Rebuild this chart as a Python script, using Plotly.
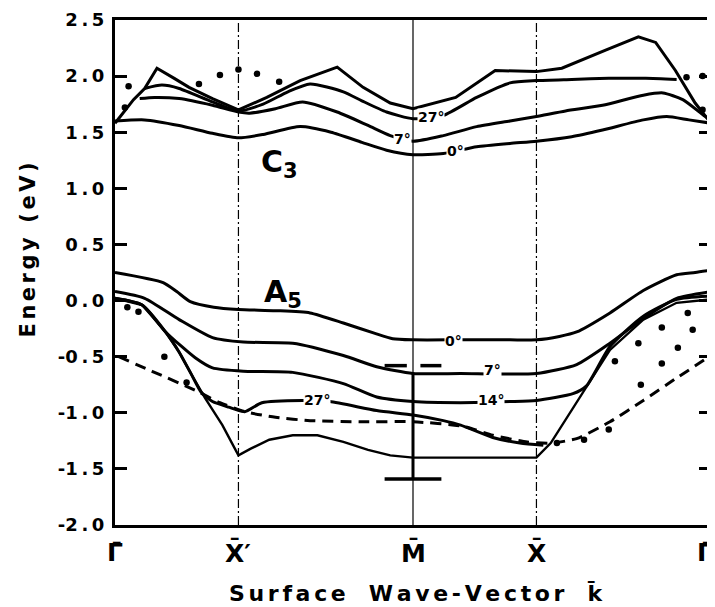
import plotly.graph_objects as go

S2 = 2 ** 0.5
# symmetry points along the path (units of Gamma-X' distance)
sym_k = [0.0, 1.0, 1 + S2, 2 + S2, 2 + 2 * S2]
sym_labels = ["Γ\u0304", "X\u0304\u2032", "M\u0304", "X\u0304", "Γ\u0304"]

# ---------------- upper band (C3) ----------------
up0_k = [0, 0.24, 0.52, 0.79, 1.0, 1.2, 1.5, 1.75, 2.0, 2.2, 2.414, 2.66, 2.93, 3.2, 3.414, 3.7, 3.95, 4.28, 4.47, 4.65, 4.828]
up0_E = [1.60, 1.61, 1.56, 1.49, 1.45, 1.48, 1.55, 1.50, 1.41, 1.34, 1.30, 1.31, 1.37, 1.40, 1.42, 1.46, 1.52, 1.61, 1.64, 1.61, 1.58]

up7_k = [0.20, 0.32, 0.52, 0.79, 1.0, 1.09, 1.3, 1.52, 1.8, 2.05, 2.23, 2.414, 2.66, 2.93, 3.2, 3.414, 3.65, 3.95, 4.28, 4.44, 4.6, 4.77, 4.828]
up7_E = [1.80, 1.81, 1.80, 1.74, 1.68, 1.67, 1.71, 1.77, 1.68, 1.56, 1.47, 1.42, 1.47, 1.55, 1.60, 1.64, 1.69, 1.74, 1.83, 1.85, 1.79, 1.65, 1.61]

up27_k = [0.24, 0.38, 0.52, 0.79, 1.0, 1.2, 1.4, 1.58, 1.85, 2.0, 2.2, 2.414, 2.66, 2.93, 3.2, 3.414, 3.7, 4.0, 4.3, 4.55]
up27_E = [1.89, 1.92, 1.89, 1.77, 1.69, 1.75, 1.86, 1.93, 1.86, 1.78, 1.68, 1.62, 1.65, 1.81, 1.94, 1.96, 1.97, 1.98, 1.98, 1.97]

uptop_k = [0, 0.15, 0.24, 0.34, 0.48, 0.6, 0.79, 1.0, 1.23, 1.5, 1.8, 2.01, 2.23, 2.414, 2.76, 3.08, 3.414, 3.62, 3.97, 4.24, 4.38, 4.54, 4.70, 4.828]
uptop_E = [1.58, 1.79, 1.89, 2.07, 1.98, 1.90, 1.80, 1.70, 1.81, 1.96, 2.08, 1.90, 1.76, 1.71, 1.81, 2.05, 2.04, 2.07, 2.23, 2.35, 2.30, 2.05, 1.76, 1.58]

updots_k = [0.08, 0.11, 0.68, 0.85, 1.0, 1.15, 1.33, 4.63, 4.76, 4.76]
updots_E = [1.72, 1.91, 1.93, 2.01, 2.06, 2.02, 1.95, 1.99, 2.00, 1.70]

# ---------------- lower band (A5) ----------------
lo0_k = [0, 0.39, 0.5, 0.61, 0.8, 1.0, 1.3, 1.58, 1.85, 2.1, 2.25, 2.414, 2.8, 3.2, 3.414, 3.6, 3.74, 4.01, 4.28, 4.55, 4.7, 4.828]
lo0_E = [0.25, 0.16, 0.08, -0.01, -0.06, -0.08, -0.09, -0.11, -0.20, -0.29, -0.34, -0.35, -0.35, -0.35, -0.35, -0.32, -0.28, -0.11, 0.09, 0.23, 0.25, 0.27]

lo7_k = [0, 0.24, 0.52, 0.79, 1.04, 1.44, 1.85, 2.12, 2.414, 2.8, 3.414, 3.74, 4.01, 4.28, 4.55, 4.828]
lo7_E = [0.08, 0.02, -0.17, -0.33, -0.37, -0.38, -0.49, -0.59, -0.65, -0.65, -0.65, -0.57, -0.38, -0.16, 0.02, 0.08]

lo14_k = [0, 0.22, 0.41, 0.65, 0.79, 1.04, 1.44, 1.85, 2.12, 2.414, 2.8, 3.2, 3.414, 3.71, 3.82, 4.01, 4.28, 4.55, 4.828]
lo14_E = [0.02, -0.04, -0.28, -0.51, -0.60, -0.63, -0.64, -0.74, -0.86, -0.90, -0.91, -0.90, -0.89, -0.83, -0.76, -0.41, -0.14, 0.01, 0.04]

lo27_k = [0, 0.22, 0.41, 0.52, 0.62, 0.70, 0.79, 0.92, 1.05, 1.19, 1.52, 1.74, 2.12, 2.414, 2.66, 2.80, 3.06, 3.28, 3.47]
lo27_E = [0.02, -0.04, -0.28, -0.46, -0.66, -0.82, -0.90, -0.95, -0.99, -0.91, -0.89, -0.90, -0.98, -1.02, -1.07, -1.11, -1.22, -1.27, -1.29]

lotop_k = [0, 0.22, 0.41, 0.52, 0.62, 0.73, 0.87, 1.0, 1.1, 1.25, 1.44, 1.64, 1.85, 2.05, 2.23, 2.414, 3.0, 3.414, 3.53, 3.82, 4.01, 4.28, 4.55, 4.828]
lotop_E = [0.02, -0.04, -0.28, -0.46, -0.66, -0.87, -1.11, -1.38, -1.32, -1.24, -1.20, -1.20, -1.26, -1.33, -1.38, -1.40, -1.40, -1.40, -1.27, -0.77, -0.44, -0.17, -0.02, 0.01]

lodash_k = [0.03, 0.3, 0.65, 0.85, 1.05, 1.3, 1.58, 2.0, 2.414, 2.82, 3.06, 3.34, 3.53, 3.74, 4.01, 4.28, 4.55, 4.80]
lodash_E = [-0.50, -0.63, -0.80, -0.91, -0.99, -1.04, -1.07, -1.08, -1.08, -1.12, -1.20, -1.26, -1.27, -1.23, -1.08, -0.89, -0.69, -0.51]

lodots_k = [0.10, 0.19, 0.40, 0.58, 3.58, 3.80, 4.00, 4.26, 4.43, 4.56, 4.68, 4.05, 4.24, 4.43, 4.64]
lodots_E = [-0.06, -0.10, -0.50, -0.73, -1.27, -1.24, -1.15, -0.75, -0.56, -0.42, -0.26, -0.54, -0.38, -0.24, -0.11]

# experimental bar at M
bar_top, bar_bot, cap_top = -0.65, -1.59, -0.58
cap_half = 0.23

yticks = [2.5, 2.0, 1.5, 1.0, 0.5, 0.0, -0.5, -1.0, -1.5, -2.0]

FONT = "DejaVu Sans"
fig = go.Figure()

def curve(k, E, width=3, shape="spline", dash=None):
    fig.add_trace(go.Scatter(
        x=k, y=E, mode="lines", hoverinfo="skip",
        line=dict(color="black", width=width, shape=shape,
                  smoothing=0.6 if shape == "spline" else None, dash=dash)))

curve(up0_k, up0_E)
curve(up7_k, up7_E)
curve(up27_k, up27_E)
curve(uptop_k, uptop_E, shape="linear")
curve(lo0_k, lo0_E)
curve(lo7_k, lo7_E)
curve(lo14_k, lo14_E)
curve(lo27_k, lo27_E)
curve(lotop_k, lotop_E, width=2.4, shape="linear")
curve(lodash_k, lodash_E, width=3, dash="11px,7px")

for dk, dE in [(updots_k, updots_E), (lodots_k, lodots_E)]:
    fig.add_trace(go.Scatter(x=dk, y=dE, mode="markers", hoverinfo="skip",
                             marker=dict(color="black", size=6.5)))

kM = sym_k[2]
fig.add_trace(go.Scatter(x=[kM, kM], y=[bar_top, bar_bot], mode="lines",
                         line=dict(color="black", width=3), hoverinfo="skip"))
fig.add_trace(go.Scatter(x=[kM - cap_half, kM + cap_half], y=[bar_bot, bar_bot], mode="lines",
                         line=dict(color="black", width=3.5), hoverinfo="skip"))
fig.add_trace(go.Scatter(x=[kM - cap_half, kM - 0.05, None, kM + 0.06, kM + cap_half],
                         y=[cap_top, cap_top, None, cap_top, cap_top], mode="lines",
                         line=dict(color="black", width=3.5), hoverinfo="skip"))

# vertical symmetry lines
shapes = []
for i, kk in enumerate(sym_k[1:4]):
    shapes.append(dict(type="line", xref="x", yref="y", x0=kk, x1=kk, y0=-2.0, y1=2.5,
                       layer="below",
                       line=dict(color="black", width=1.2,
                                 dash="solid" if i == 1 else "9px,3px,2px,3px")))

ann = []
def label(x, y, text, size=14, bg=True):
    ann.append(dict(x=x, y=y, xref="x", yref="y", text=text, showarrow=False,
                    font=dict(family=FONT, size=size, color="black", weight="bold"),
                    bgcolor="white" if bg else None, borderpad=0))

# angle labels
label(2.56, 1.635, "27°")
label(2.33, 1.44, "7°")
label(2.76, 1.335, "0°")
label(2.74, -0.36, "0°")
label(3.06, -0.62, "7°")
label(3.05, -0.885, "14°")
label(1.64, -0.89, "27°")
# band labels
label(1.33, 1.22, "C<sub>3</sub>", size=30, bg=False)
label(1.36, 0.06, "A<sub>5</sub>", size=30, bg=False)

# symmetry point labels below the axis
for i, (kk, t) in enumerate(zip(sym_k, sym_labels)):
    ann.append(dict(x=kk, y=-0.055, xref="x", yref="paper", text=t, showarrow=False,
                    yanchor="middle", xshift=-6 if i == 4 else 0,
                    font=dict(family=FONT, size=25, color="black", weight="bold")))

sp = "\u2006"
ann.append(dict(x=0.505, y=-0.165, xref="paper", yref="paper", showarrow=False,
                text=sp.join("Surface") + "   " + sp.join("Wave-Vector") + "   " + "k\u0304",
                font=dict(family=FONT, size=22, color="black", weight="bold")))
ann.append(dict(x=-0.17, y=0.545, xref="paper", yref="paper", showarrow=False,
                textangle=-90, text=sp.join("Energy") + "  " + sp.join("(eV)"),
                font=dict(family=FONT, size=21, color="black", weight="bold")))

# the page adds an 8px body margin, so the figure is sized to fit the 715x607 window
fig.update_layout(
    width=707, height=599,
    margin=dict(l=107, r=4, t=12, b=82, autoexpand=False),
    paper_bgcolor="white", plot_bgcolor="white",
    showlegend=False,
    shapes=shapes, annotations=ann,
    xaxis=dict(range=[0, sym_k[-1]], showgrid=False, zeroline=False, automargin=False,
               showticklabels=False, ticks="",
               showline=True, linecolor="black", linewidth=3, mirror=True),
    yaxis=dict(range=[-2.0, 2.5], showgrid=False, zeroline=False, automargin=False,
               tickvals=yticks,
               ticktext=[("-" if v < 0 else "") + "\u2009.\u2009".join(f"{abs(v):.1f}".split(".")) for v in yticks],
               ticks="inside", ticklen=12, tickwidth=2.5, tickcolor="black",
               ticklabelstandoff=4,
               tickfont=dict(family=FONT, size=18, color="black", weight="bold"),
               showline=True, linecolor="black", linewidth=3, mirror="ticks"),
)

fig.write_html("out.html")
